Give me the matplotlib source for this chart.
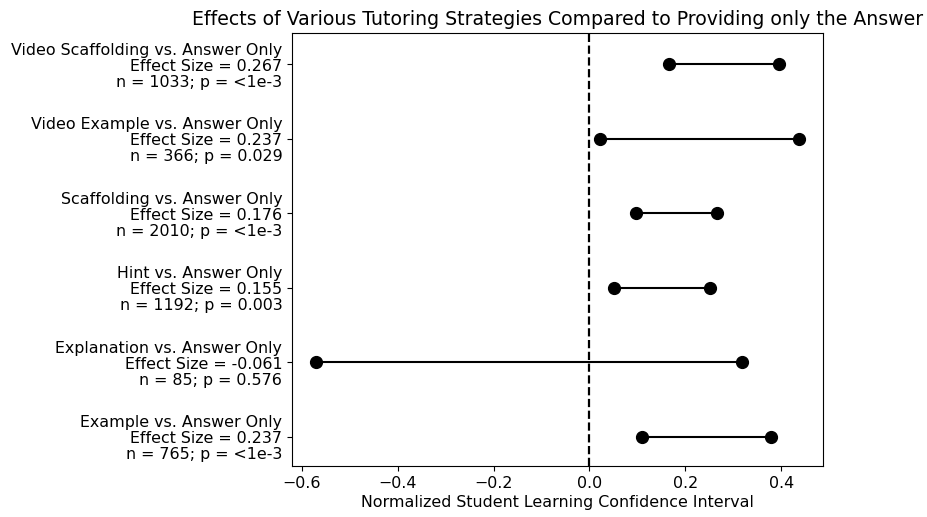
import numpy as np
import matplotlib
matplotlib.use('Agg')
import matplotlib.pyplot as plt

# 비교 항목 (아래에서 위로)
comparisons = ['Example', 'Explanation', 'Hint', 'Scaffolding', 'Video Example', 'Video Scaffolding']
effect_sizes = ['0.237', '-0.061', '0.155', '0.176', '0.237', '0.267']
n_values = [765, 85, 1192, 2010, 366, 1033]
p_values = ['<1e-3', '0.576', '0.003', '<1e-3', '0.029', '<1e-3']
ci_low = [0.110, -0.571, 0.052, 0.098, 0.023, 0.165]
ci_high = [0.379, 0.319, 0.252, 0.267, 0.4375, 0.396]

labels = ['%s vs. Answer Only\nEffect Size = %s\nn = %d; p = %s' % (c, e, n, p)
          for c, e, n, p in zip(comparisons, effect_sizes, n_values, p_values)]

fig = plt.figure(figsize=(9.27, 5.17), dpi=100)
ax = fig.add_axes([292/927, 1 - 466/517, (823-292)/927, (466-33)/517])

for i in range(len(comparisons)):
    ax.plot([ci_low[i], ci_high[i]], [i, i], color='black', marker='o',
            markersize=8.5, linewidth=1.5)

ax.axvline(0, color='black', linestyle='--', linewidth=1.6)

ax.set_yticks(range(len(labels)))
ax.set_yticklabels(labels, fontsize=11.4, linespacing=1.08)
ax.set_ylim(-0.39, 5.42)
ax.set_xlim(-0.621, 0.4875)
ax.set_xticks([-0.6, -0.4, -0.2, 0.0, 0.2, 0.4])
ax.tick_params(axis='x', labelsize=11.4)
ax.set_xlabel('Normalized Student Learning Confidence Interval', fontsize=11.4, labelpad=3)
ax.set_title('Effects of Various Tutoring Strategies Compared to Providing only the Answer', fontsize=13.6, pad=6)

plt.savefig('out.png', dpi=100)
